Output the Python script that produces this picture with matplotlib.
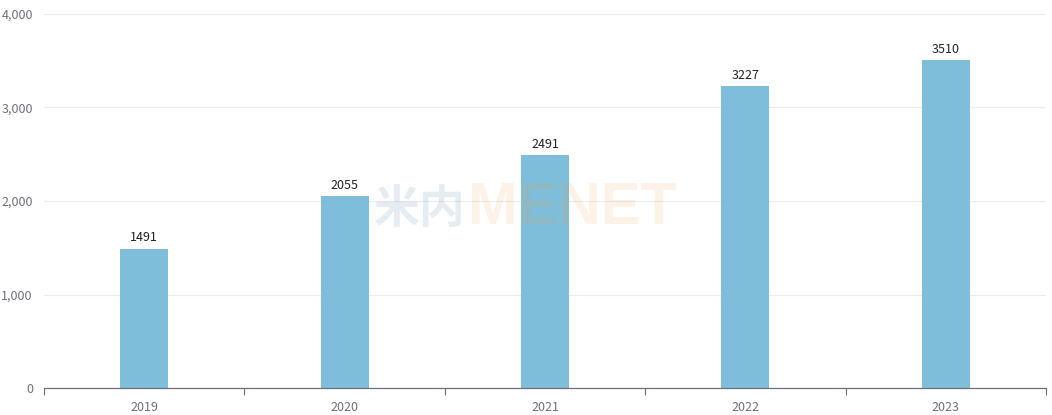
import numpy as np
import matplotlib.pyplot as plt
from matplotlib.ticker import FuncFormatter

years = ['2019', '2020', '2021', '2022', '2023']
values = [1491, 2055, 2491, 3227, 3510]
yticks = [0, 1000, 2000, 3000, 4000]

plt.rcParams['font.family'] = ['Noto Sans CJK SC', 'DejaVu Sans']

fig = plt.figure(figsize=(10.52, 4.15), dpi=100)
ax = fig.add_axes([44/1052, 27/415, 1002/1052, 374/415])

x = np.arange(len(years))
bars = ax.bar(x, values, width=0.24, color='#7fbedb', zorder=2)
for b, v in zip(bars, values):
    ax.annotate(str(v), (b.get_x() + b.get_width()/2, v), xytext=(0, 3),
                textcoords='offset points', ha='center', va='bottom',
                fontsize=9, color='#222222', zorder=5)

ax.set_xlim(-0.5, len(years) - 0.5)
ax.set_ylim(0, 4000)
ax.set_yticks(yticks)
ax.yaxis.set_major_formatter(FuncFormatter(lambda v, p: f'{int(v):,}'))
ax.grid(axis='y', color='#ececec', linewidth=0.8, zorder=0)

# x ticks: labels at centers, marks at boundaries
ax.set_xticks(x)
ax.set_xticklabels(years)
ax.set_xticks(np.arange(-0.5, len(years)), minor=True)
ax.tick_params(axis='x', which='major', length=0, pad=9, labelsize=9, labelcolor='#6e7079')
ax.tick_params(axis='x', which='minor', length=5, color='#6e7079', width=0.8)
ax.tick_params(axis='y', length=0, pad=8, labelsize=9, labelcolor='#6e7079')

for s in ['top', 'right', 'left']:
    ax.spines[s].set_visible(False)
ax.spines['bottom'].set_color('#6e7079')
ax.spines['bottom'].set_linewidth(0.9)

# watermark
ax.text(0.421, 0.475, '米内', transform=ax.transAxes, ha='right', va='center',
        fontsize=33, fontweight='bold', color='#2f6f9a', alpha=0.12, zorder=3)
ax.text(0.423, 0.479, 'MENET', transform=ax.transAxes, ha='left', va='center',
        fontsize=43, fontweight='bold', color='#f59a3c', alpha=0.12, zorder=3,
        family=['Liberation Sans', 'DejaVu Sans'])

fig.savefig('out.png', dpi=100)
